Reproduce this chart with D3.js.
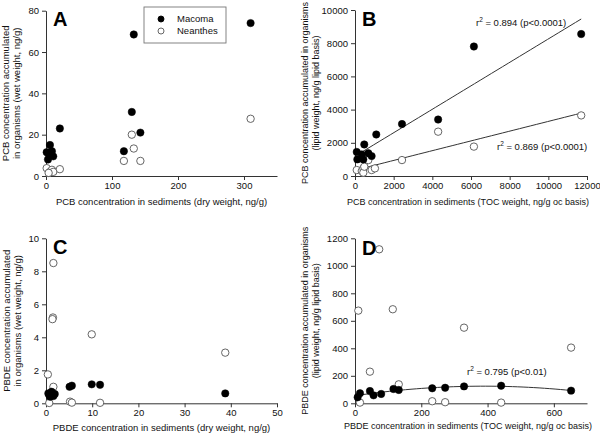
<!DOCTYPE html>
<html><head><meta charset="utf-8">
<script src="https://cdn.jsdelivr.net/npm/d3@7/dist/d3.min.js"></script>
<style>
body{margin:0;background:#fff;}
svg{display:block;font-family:"Liberation Sans",Arial,sans-serif;}
</style></head>
<body><svg id="c" width="600" height="436"></svg>
<script>
// ---------------- DATA ----------------
const seriesNames = ["Macoma", "Neanthes"];

// Panel A: PCB dry weight (ng/g) vs wet weight (ng/g)
const pcbDryMacoma = [[1,11.5],[6,15],[9,12],[11,9.5],[3,8],[5,10],[21,23],[118,12],[130,31],[133,68.5],[143,21],[310,74]];
const pcbDryNeanthes = [[1,3.8],[6,2],[9,3],[11,2],[4,1.5],[21,3.3],[118,7.3],[130,20],[133,13.3],[143,7.3],[310,27.7]];

// Panel B: PCB TOC basis vs lipid basis
const pcbTocMacoma = [[90,1450],[120,1000],[350,1300],[430,1000],[480,1900],[690,1370],[860,1200],[1100,2500],[2430,3130],[4300,3400],[6150,7800],[11700,8550]];
const pcbTocNeanthes = [[90,360],[350,300],[430,460],[430,200],[480,560],[690,960],[860,360],[1030,460],[2430,960],[4300,2670],[6150,1770],[11700,3650]];

// Panel C: PBDE dry weight vs wet weight
const pbdeDryMacoma = [[0.5,0.6],[1.2,0.7],[1.9,0.56],[0.9,0.4],[1.6,0.44],[1.4,0.6],[0.7,0.5],[5.1,1.0],[5.6,1.07],[9.9,1.15],[11.7,1.12],[38.8,0.6]];
const pbdeDryNeanthes = [[1.6,8.5],[1.5,5.2],[1.4,5.1],[9.9,4.18],[38.8,3.07],[0.4,1.75],[1.6,1.0],[0.7,0.02],[5.2,0.1],[5.6,0.04],[11.7,0.03]];

// Panel D: PBDE TOC basis vs lipid basis
const pbdeTocMacoma = [[8,44],[15,73],[45,89],[56,58],[79,68],[116,104],[132,97],[233,109],[272,113],[329,123],[441,128],[652,92]];
const pbdeTocNeanthes = [[73,1120],[10,674],[114,684],[329,550],[652,405],[45,230],[132,138],[15,5],[233,15],[272,8],[441,5]];

// Tick values
const ticksAx = [0,100,200,300], ticksAy = [0,20,40,60,80];
const ticksBx = [0,2000,4000,6000,8000,10000,12000], ticksBy = [0,2000,4000,6000,8000,10000];
const ticksCx = [0,10,20,30,40,50], ticksCy = [0,2,4,6,8,10];
const ticksDx = [0,200,400,600], ticksDy = [0,200,400,600,800,1000,1200];

// Annotation texts
const r2B1 = "0.894 (p<0.0001)", r2B2 = "0.869 (p<0.0001)", r2D = "0.795 (p<0.01)";

// ---------------- HELPERS ----------------
const svg = d3.select("#c");
const TXT = "#111", AX = "#333";

function linFit(pts){
  const mx=d3.mean(pts,d=>d[0]), my=d3.mean(pts,d=>d[1]);
  let sxy=0,sxx=0; pts.forEach(([x,y])=>{sxy+=(x-mx)*(y-my);sxx+=(x-mx)*(x-mx);});
  const b=sxy/sxx; return x=>my+b*(x-mx);
}
function quadFit(pts){
  const S=k=>d3.sum(pts,d=>Math.pow(d[0],k)), T=k=>d3.sum(pts,d=>d[1]*Math.pow(d[0],k));
  const M=[[S(0),S(1),S(2),T(0)],[S(1),S(2),S(3),T(1)],[S(2),S(3),S(4),T(2)]];
  for(let i=0;i<3;i++){ for(let j=i+1;j<3;j++){ const f=M[j][i]/M[i][i]; for(let k=i;k<4;k++) M[j][k]-=f*M[i][k]; } }
  const c=[0,0,0];
  for(let i=2;i>=0;i--){ let s=M[i][3]; for(let k=i+1;k<3;k++) s-=M[i][k]*c[k]; c[i]=s/M[i][i]; }
  return x=>c[0]+c[1]*x+c[2]*x*x;
}

function panel(o){
  const g = svg.append("g");
  const x = d3.scaleLinear().domain(o.xDom).range([o.left,o.right]);
  const y = d3.scaleLinear().domain(o.yDom).range([o.bottom,o.top]);
  const xa = g.append("g").attr("transform",`translate(0,${o.bottom})`)
    .call(d3.axisBottom(x).tickValues(o.xTicks).tickSize(4).tickSizeOuter(0).tickPadding(2).tickFormat(d3.format("d")));
  const ya = g.append("g").attr("transform",`translate(${o.left},0)`)
    .call(d3.axisLeft(y).tickValues(o.yTicks).tickSize(4).tickSizeOuter(0).tickPadding(3).tickFormat(d3.format("d")));
  [xa,ya].forEach(a=>{
    a.select(".domain").attr("stroke",AX).attr("stroke-width",1);
    a.selectAll(".tick line").attr("stroke",AX);
    a.selectAll(".tick text").attr("fill",TXT).style("font-size","9.5px").style("font-family","Liberation Sans, Arial, sans-serif");
  });
  (o.fits||[]).forEach(f=>{
    const xs=f.pts.map(d=>d[0]); const lo=d3.min(xs), hi=d3.max(xs);
    const samples=d3.range(0,41).map(i=>lo+(hi-lo)*i/40);
    g.append("path").datum(samples.map(v=>[v,f.fn(v)]))
      .attr("d",d3.line().x(d=>x(d[0])).y(d=>y(d[1])))
      .attr("fill","none").attr("stroke","#333").attr("stroke-width",1);
  });
  g.append("g").selectAll("circle").data(o.open).join("circle")
    .attr("cx",d=>x(d[0])).attr("cy",d=>y(d[1])).attr("r",3.7)
    .attr("fill","#fff").attr("stroke","#555").attr("stroke-width",0.9);
  g.append("g").selectAll("circle").data(o.filled).join("circle")
    .attr("cx",d=>x(d[0])).attr("cy",d=>y(d[1])).attr("r",3.7)
    .attr("fill","#000").attr("stroke","#000").attr("stroke-width",0.5);
  g.append("text").attr("x",o.left+7).attr("y",o.letterY).text(o.letter)
    .attr("fill","#000").style("font-size","20px").style("font-weight","bold");
  g.append("text").attr("x",o.xTitleX).attr("y",o.xTitleY).attr("text-anchor","middle")
    .attr("fill",TXT).style("font-size",o.xTitleSize+"px").text(o.xTitle);
  const cy=(o.top+o.bottom)/2;
  o.yTitle.forEach((t,i)=>{
    g.append("text").attr("transform",`translate(${o.yTitleX[i]},${cy}) rotate(-90)`).attr("text-anchor","middle")
      .attr("fill",TXT).style("font-size",o.yTitleSize+"px").text(t);
  });
  (o.notes||[]).forEach(n=>{
    const t=g.append("text").attr("x",n.x).attr("y",n.y).attr("fill",TXT).style("font-size","9.5px");
    t.append("tspan").text("r");
    t.append("tspan").attr("dy",-4).style("font-size","6.5px").text("2");
    t.append("tspan").attr("dy",4).text(" = "+n.text);
  });
  return {x,y,g};
}

// ---------------- PANELS ----------------
panel({letter:"A",left:46,right:277,top:10.7,bottom:176,xDom:[0,350],yDom:[0,80],
  xTicks:ticksAx,yTicks:ticksAy,filled:pcbDryMacoma,open:pcbDryNeanthes,letterY:26,xTitleY:205,xTitleX:161.5,xTitleSize:9.5,
  xTitle:"PCB concentration in sediments (dry weight, ng/g)",yTitleSize:9.5,
  yTitle:["PCB concentration accumulated","in organisms (wet weight, ng/g)"],yTitleX:[9,20]});

panel({letter:"B",left:355,right:587,top:10,bottom:176,xDom:[0,12000],yDom:[0,10000],
  xTicks:ticksBx,yTicks:ticksBy,filled:pcbTocMacoma,open:pcbTocNeanthes,letterY:26,xTitleY:205,xTitleX:468,xTitleSize:9,
  xTitle:"PCB concentration in sediments (TOC weight, ng/g oc basis)",yTitleSize:9,
  yTitle:["PCB concentration accumulated in organisms","(lipid weight, ng/g lipid basis)"],yTitleX:[307.5,318.5],
  fits:[{pts:pcbTocMacoma,fn:linFit(pcbTocMacoma)},{pts:pcbTocNeanthes,fn:linFit(pcbTocNeanthes)}],
  notes:[{x:476,y:26,text:r2B1},{x:497,y:150,text:r2B2}]});

panel({letter:"C",left:46,right:277,top:238.3,bottom:403.3,xDom:[0,50],yDom:[0,10],
  xTicks:ticksCx,yTicks:ticksCy,filled:pbdeDryMacoma,open:pbdeDryNeanthes,letterY:254,xTitleY:431,xTitleX:161.5,xTitleSize:9.5,
  xTitle:"PBDE concentration in sediments (dry weight, ng/g)",yTitleSize:9.5,
  yTitle:["PBDE concentration accumulated","in organisms (wet weight, ng/g)"],yTitleX:[10,21]});

panel({letter:"D",left:355,right:587,top:238.3,bottom:403.3,xDom:[0,700],yDom:[0,1200],
  xTicks:ticksDx,yTicks:ticksDy,filled:pbdeTocMacoma,open:pbdeTocNeanthes,letterY:255,xTitleY:429,xTitleX:468,xTitleSize:9,
  xTitle:"PBDE concentration in sediments (TOC weight, ng/g oc basis)",yTitleSize:9,
  yTitle:["PBDE concentration accumulated in organisms","(lipid weight, ng/g lipid basis)"],yTitleX:[307.5,318.5],
  fits:[{pts:pbdeTocMacoma,fn:quadFit(pbdeTocMacoma)}],
  notes:[{x:467,y:375,text:r2D}]});

// ---------------- LEGEND (panel A) ----------------
const lg = svg.append("g");
lg.append("rect").attr("x",144).attr("y",7).attr("width",82).attr("height",36)
  .attr("fill","#fff").attr("stroke","#777").attr("stroke-width",0.9);
seriesNames.forEach((s,i)=>{
  const yy = 19 + i*12;
  lg.append("circle").attr("cx",161).attr("cy",yy).attr("r",3)
    .attr("fill",i===0?"#000":"#fff").attr("stroke",i===0?"#000":"#555").attr("stroke-width",0.9);
  lg.append("text").attr("x",177).attr("y",yy+3.3).attr("fill",TXT).style("font-size","9.5px").text(s);
});
</script></body></html>
